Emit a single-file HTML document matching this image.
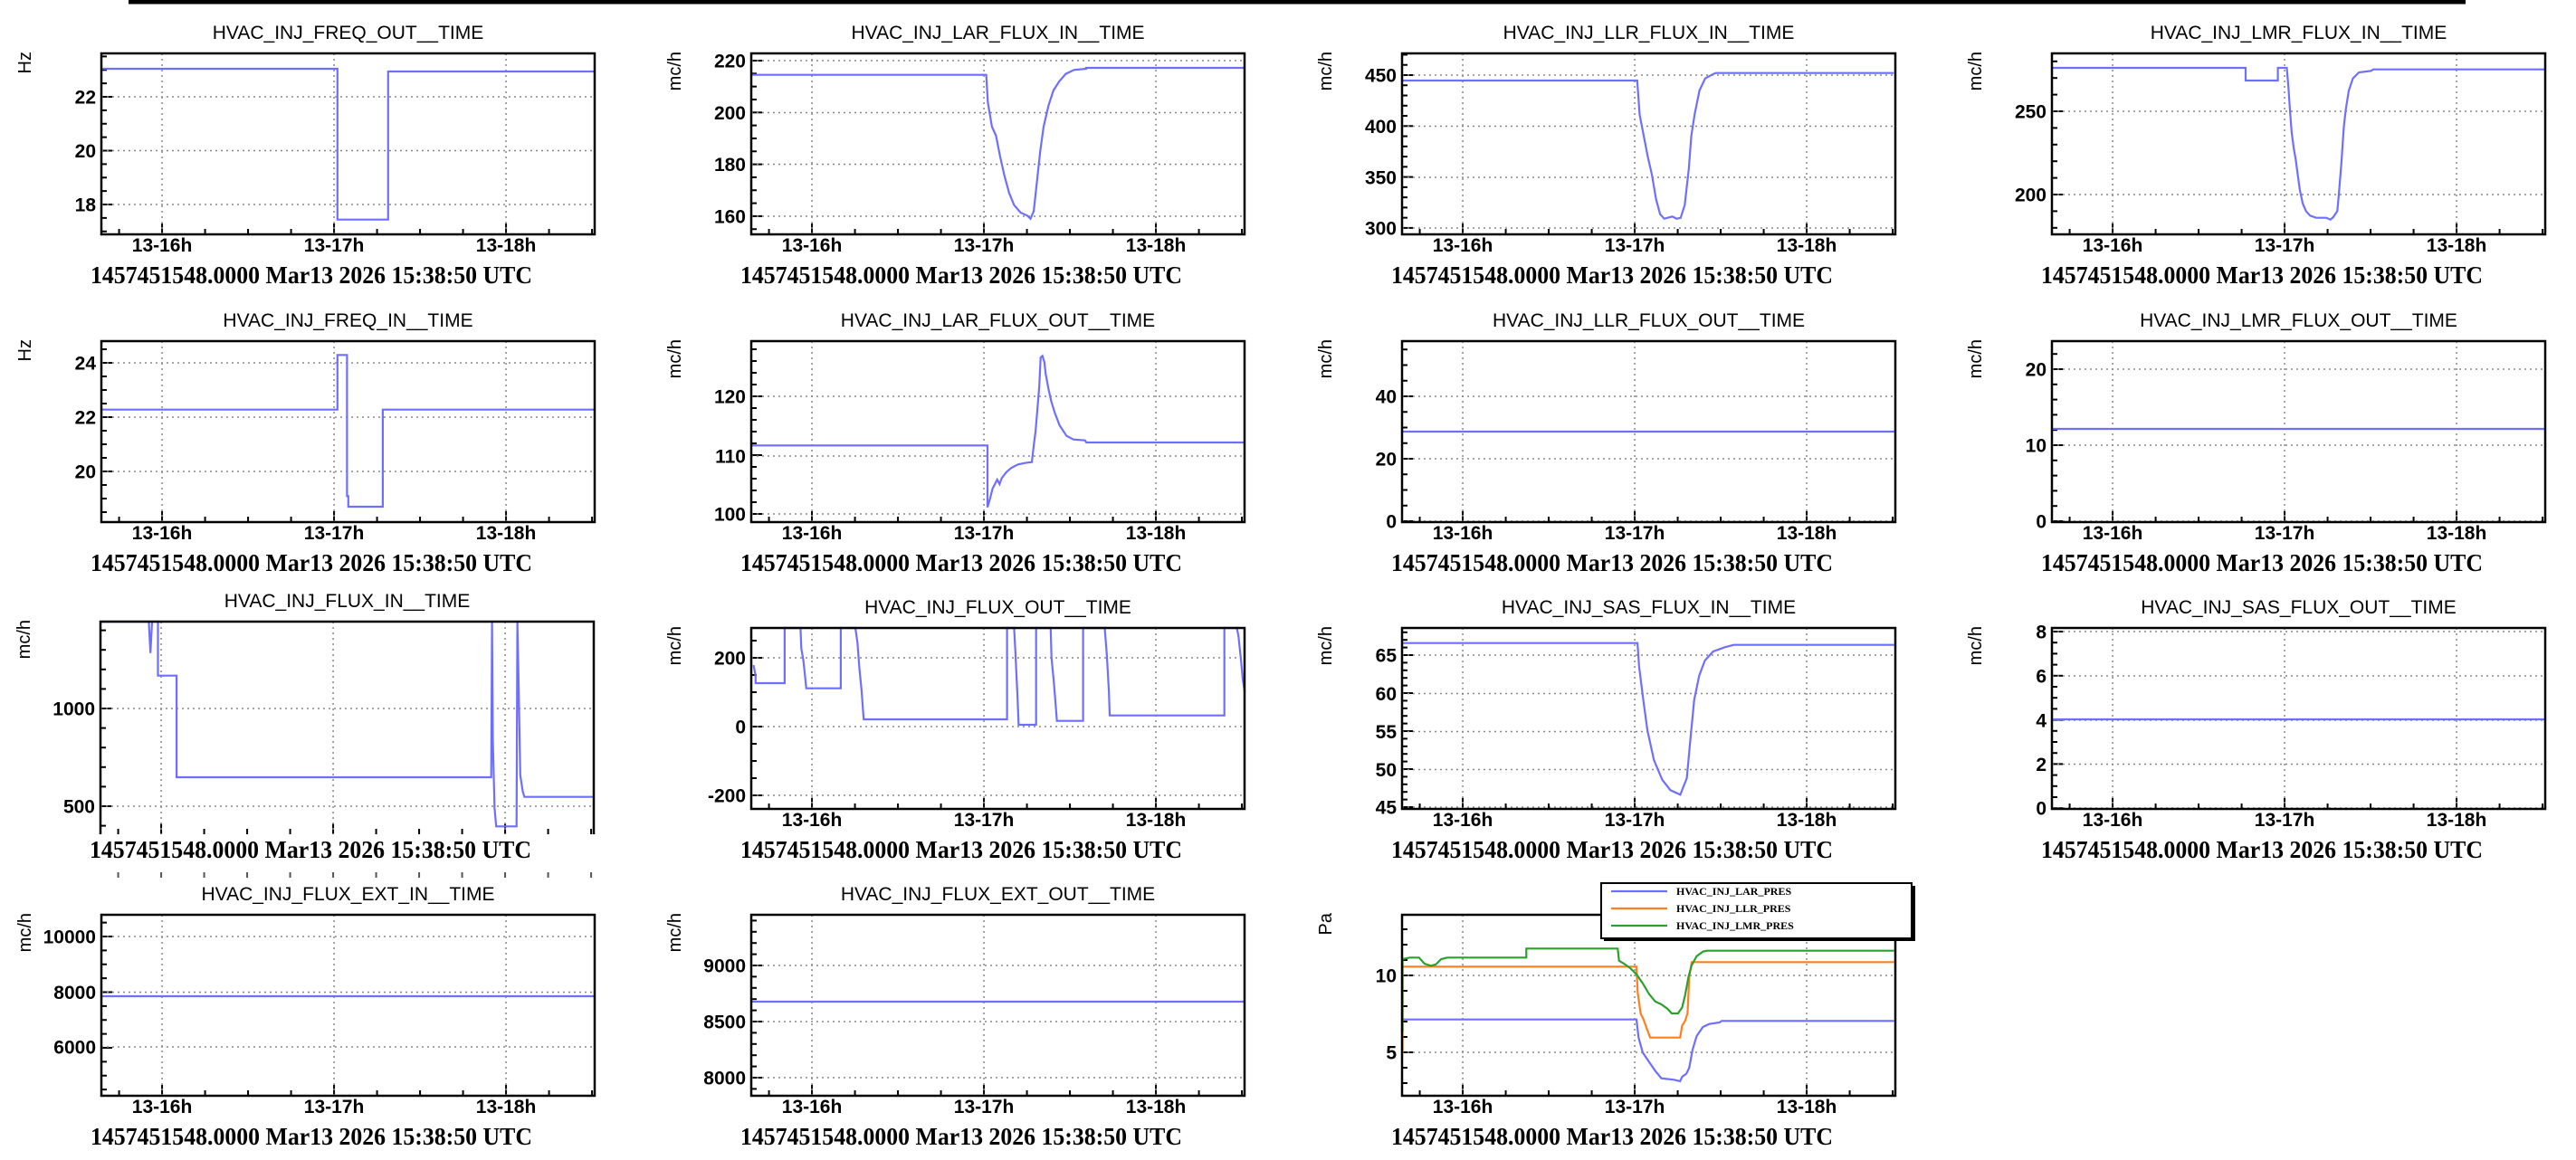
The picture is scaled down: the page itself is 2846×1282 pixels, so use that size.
<!DOCTYPE html>
<html><head><meta charset="utf-8">
<style>html,body{margin:0;padding:0;background:#fff;}svg{display:block}</style>
</head><body>
<svg id="s" xmlns="http://www.w3.org/2000/svg" width="2846" height="1282" viewBox="0 0 2846 1282"></svg>
<script>
const S=document.getElementById('s');let h='';
h+='<rect x="0" y="0" width="2846" height="1282" fill="#fff"/>';
h+='<rect x="142" y="0" width="2582" height="4.5" fill="#000"/>';
const W=545,H=200,BLUE='#6f6fff';
function yt(P){ // y ticks
  let s='';const {x0,y0,bot,majors,step,sub}=P;
  const ys=majors.map(m=>m[1]);
  let first=ys[0];
  for(let k=-20;k<40;k++){const y=first+k*step/sub; if(y<y0-0.5||y>bot+0.5)continue;
    const major=(k%sub===0);
    s+=`<line x1="${x0}" y1="${y}" x2="${x0+(major?12:6)}" y2="${y}" stroke="#000" stroke-width="2"/>`;}
  majors.forEach(([lab,y])=>{ if(y<y0-1||y>bot+1)return;
    s+=`<line x1="${x0}" y1="${y}" x2="${x0+W}" y2="${y}" stroke="#888" stroke-width="1.5" stroke-dasharray="2,4"/>`;
    s+=`<text x="${x0-6}" y="${y+7.5}" text-anchor="end" font-family="Liberation Sans, sans-serif" font-weight="bold" font-size="21">${lab}</text>`;});
  return s;
}
function xt(x0,yb,top,labels){
  let s='';
  for(let q=0;q<12;q++){const t=15.75+q*0.25;const x=x0+(t-15.647)*190;if(x>x0+W+0.5)break;
    const major=Math.abs(t-Math.round(t))<1e-6;
    s+=`<line x1="${x}" y1="${yb}" x2="${x}" y2="${yb-(major?12:6)}" stroke="#000" stroke-width="2"/>`;
    if(major){ if(top!==null) s+=`<line x1="${x}" y1="${top}" x2="${x}" y2="${yb}" stroke="#888" stroke-width="1.5" stroke-dasharray="2,4"/>`;
      if(labels) s+=`<text x="${x}" y="${yb+19}" text-anchor="middle" font-family="Liberation Sans, sans-serif" font-weight="bold" font-size="21">13-${Math.round(t)}h</text>`;}}
  return s;
}
function conv(pts,bx,sx,by){return pts.map(p=>[bx+p[0]/sx,by+p[1]/3]);}
function poly(pts,col,y0,bot){return `<polyline fill="none" stroke="${col||BLUE}" stroke-width="2.2" points="${pts.map(p=>p[0].toFixed(1)+','+Math.min(bot,Math.max(y0,p[1])).toFixed(1)).join(' ')}"/>`;}
function panel(c){
  const x0=c.x0,y0=c.y0,bot=c.bot||y0+H;
  let s='';
  s+=`<text x="${x0+W/2}" y="${y0-16}" text-anchor="middle" font-family="Liberation Sans, sans-serif" font-size="21">${c.title}</text>`;
  s+=`<text transform="translate(${x0-78},${y0-2}) rotate(-90)" text-anchor="end" font-family="Liberation Sans, sans-serif" font-size="20">${c.unit}</text>`;
  s+=yt({x0,y0,bot,majors:c.majors,step:c.step,sub:c.sub});
  s+=xt(x0,bot,y0,!c.special);
  (c.series||[]).forEach(se=>{s+=poly(se.pts,se.col,y0,bot);});
  if(c.special){
    s+=`<path d="M${x0},${bot} L${x0},${y0} L${x0+W},${y0} L${x0+W},${bot}" fill="none" stroke="#000" stroke-width="2.5"/>`;
    s+=`<text x="${x0-12}" y="${bot+26}" textLength="488" lengthAdjust="spacingAndGlyphs" font-family="Liberation Serif, serif" font-weight="bold" font-size="27">1457451548.0000 Mar13 2026 15:38:50 UTC</text>`;
    for(let q=0;q<12;q++){const t=15.75+q*0.25;const x=x0+(t-15.647)*190;if(x>x0+W)break;
      s+=`<line x1="${x}" y1="970" x2="${x}" y2="964" stroke="#555" stroke-width="2"/>`;}
  } else {
    s+=`<rect x="${x0}" y="${y0}" width="${W}" height="${bot-y0}" fill="none" stroke="#000" stroke-width="2.5"/>`;
    s+=`<text x="${x0-12}" y="${bot+54}" textLength="488" lengthAdjust="spacingAndGlyphs" font-family="Liberation Serif, serif" font-weight="bold" font-size="27">1457451548.0000 Mar13 2026 15:38:50 UTC</text>`;
  }
  return s;
}
const C=[112,830,1549,2267],R=[59,377,694,1011];
const P=[];
P.push({x0:C[0],y0:R[0],title:'HVAC_INJ_FREQ_OUT__TIME',unit:'Hz',majors:[[22,107],[20,166.5],[18,226]],step:59.5,sub:4,
 series:[{pts:conv([[245,228],[812,228],[812,728],[934,728],[934,237],[1432,237]],0,2.178,0)}]});
P.push({x0:C[1],y0:R[0],title:'HVAC_INJ_LAR_FLUX_IN__TIME',unit:'mc/h',majors:[[220,67],[200,124.5],[180,181.5],[160,239]],step:57.3,sub:4,
 series:[{pts:conv([[122,248],[408,248],[410,340],[415,420],[420,450],[425,520],[430,580],[436,640],[442,680],[450,705],[458,715],[462,725],[466,700],[470,600],[474,500],[478,420],[484,350],[490,300],[497,270],[505,245],[515,232],[530,228],[530,225],[722,225]],720,1.104,0)}]});
P.push({x0:C[2],y0:R[0],title:'HVAC_INJ_LLR_FLUX_IN__TIME',unit:'mc/h',majors:[[450,83],[400,139.5],[350,196],[300,252]],step:56.3,sub:5,
 series:[{pts:conv([[915,267],[1202,267],[1205,380],[1210,450],[1215,520],[1220,580],[1225,660],[1230,710],[1235,725],[1245,718],[1250,725],[1255,722],[1260,680],[1265,560],[1268,450],[1272,380],[1278,300],[1285,260],[1295,245],[1298,242],[1515,242]],720,1.104,0)}]});
P.push({x0:C[3],y0:R[0],title:'HVAC_INJ_LMR_FLUX_IN__TIME',unit:'mc/h',majors:[[250,123],[200,215]],step:92,sub:5,
 series:[{pts:conv([[282,225],[757,225],[757,267],[836,267],[836,225],[858,225],[862,290],[866,370],[870,440],[875,490],[880,530],[885,580],[890,630],[897,675],[905,700],[915,715],[930,722],[955,722],[965,728],[972,720],[982,700],[986,640],[992,540],[998,420],[1003,360],[1010,300],[1020,260],[1035,240],[1065,235],[1070,230],[1490,230]],2140,2.22,0)}]});
P.push({x0:C[0],y0:R[1],title:'HVAC_INJ_FREQ_IN__TIME',unit:'Hz',majors:[[24,401],[22,461],[20,521]],step:60,sub:4,
 series:[{pts:conv([[245,398],[812,398],[812,217],[835,217],[835,685],[838,685],[838,720],[921,720],[921,398],[1432,398]],0,2.178,320)}]});
P.push({x0:C[1],y0:R[1],title:'HVAC_INJ_LAR_FLUX_OUT__TIME',unit:'mc/h',majors:[[120,438],[110,504],[100,568]],step:65,sub:5,
 series:[{pts:conv([[373,517],[884,517],[884,722],[890,690],[895,660],[900,645],[905,630],[910,645],[915,625],[925,605],[935,592],[950,580],[965,575],[980,572],[984,520],[988,470],[993,380],[996,320],[999,225],[1003,220],[1007,240],[1010,280],[1016,330],[1022,370],[1030,410],[1040,450],[1055,485],[1070,497],[1095,500],[1098,507],[1441,507]],640,1.96,320)}]});
P.push({x0:C[2],y0:R[1],title:'HVAC_INJ_LLR_FLUX_OUT__TIME',unit:'mc/h',majors:[[40,438],[20,507],[0,576]],step:69,sub:4,
 series:[{pts:[[C[2],477],[C[2]+W,477]]}]});
P.push({x0:C[3],y0:R[1],title:'HVAC_INJ_LMR_FLUX_OUT__TIME',unit:'mc/h',majors:[[20,408],[10,492],[0,576]],step:84,sub:5,
 series:[{pts:[[C[3],474],[C[3]+W,474]]}]});
P.push({x0:C[0]-1,y0:687,bot:922,special:true,title:'HVAC_INJ_FLUX_IN__TIME',unit:'mc/h',majors:[[1000,783],[500,891]],step:108,sub:5,
 series:[{pts:conv([[242,140],[358,140],[362,245],[366,140],[380,140],[380,320],[425,320],[425,657],[1182,657],[1184,140],[1186,535],[1190,760],[1194,820],[1243,820],[1245,140],[1248,350],[1252,650],[1258,705],[1262,722],[1427,722]],0,2.178,640)}]});
P.push({x0:C[1],y0:R[2],title:'HVAC_INJ_FLUX_OUT__TIME',unit:'mc/h',majors:[[200,727],[0,803],[-200,879]],step:76,sub:4,
 series:[{pts:conv([[245,285],[250,320],[250,345],[320,345],[320,162],[358,162],[360,230],[365,270],[368,310],[372,362],[455,362],[455,162],[490,162],[495,210],[500,300],[505,370],[510,465],[855,465],[855,162],[872,162],[875,235],[880,380],[883,483],[925,483],[925,162],[960,162],[962,260],[968,345],[975,470],[1038,470],[1038,162],[1090,162],[1095,250],[1100,370],[1102,452],[1378,452],[1378,162],[1408,162],[1412,190],[1418,270],[1422,330],[1427,375]],720,2.178,640)}]});
P.push({x0:C[2],y0:R[2],title:'HVAC_INJ_SAS_FLUX_IN__TIME',unit:'mc/h',majors:[[65,724],[60,766.5],[55,808.5],[50,850.5],[45,892]],step:42,sub:5,
 series:[{pts:conv([[143,212],[428,212],[430,290],[435,400],[440,500],[448,600],[458,665],[468,700],[480,715],[488,660],[492,540],[497,400],[503,320],[510,270],[520,240],[535,225],[545,218],[740,218]],1420,1.1,640)}]});
P.push({x0:C[3],y0:R[2],title:'HVAC_INJ_SAS_FLUX_OUT__TIME',unit:'mc/h',majors:[[8,698],[6,747],[4,796],[2,844.5],[0,893]],step:48.8,sub:4,
 series:[{pts:[[C[3],795],[C[3]+W,795]]}]});
P.push({x0:C[0],y0:R[3],title:'HVAC_INJ_FLUX_EXT_IN__TIME',unit:'mc/h',majors:[[10000,1035],[8000,1096.5],[6000,1157]],step:61.5,sub:4,
 series:[{pts:[[C[0],1101],[C[0]+W,1101]]}]});
P.push({x0:C[1],y0:R[3],title:'HVAC_INJ_FLUX_EXT_OUT__TIME',unit:'mc/h',majors:[[9000,1067],[8500,1129],[8000,1191]],step:62,sub:5,
 series:[{pts:[[C[1],1107],[C[1]+W,1107]]}]});
P.push({x0:C[2],y0:R[3],title:'',unit:'Pa',majors:[[10,1078],[5,1163]],step:85,sub:5,
 series:[
 {col:'#6f6fff',pts:conv([[282,500],[845,500],[850,560],[860,610],[875,640],[890,670],[905,695],[935,700],[950,705],[955,690],[965,680],[972,660],[980,600],[990,555],[1005,525],[1020,515],[1045,510],[1050,505],[1465,505]],1420,2.178,960)},
 {col:'#ff7f1e',pts:conv([[282,610],[282,325],[845,325],[848,410],[855,480],[862,500],[870,530],[878,560],[950,560],[955,520],[962,505],[968,480],[972,360],[978,310],[1465,310]],1420,2.178,960)},
 {col:'#2ca02c',pts:conv([[282,540],[282,300],[300,295],[322,295],[335,315],[350,322],[362,318],[375,300],[390,295],[580,295],[580,265],[800,265],[803,305],[815,315],[830,330],[845,350],[860,380],[875,415],[890,440],[905,450],[920,465],[930,480],[945,480],[955,460],[962,420],[970,360],[978,320],[990,290],[1005,275],[1015,272],[1465,272]],1420,2.178,960)}]});
P.forEach(c=>h+=panel(c));
// legend
h+='<rect x="1772" y="979" width="344" height="61" fill="#000"/>';
h+='<rect x="1769" y="976" width="343" height="61" fill="#fff" stroke="#000" stroke-width="2"/>';
[['#6f6fff','HVAC_INJ_LAR_PRES',985],['#ff7f1e','HVAC_INJ_LLR_PRES',1004],['#2ca02c','HVAC_INJ_LMR_PRES',1023]].forEach(([c,t,y])=>{
 h+=`<line x1="1780" y1="${y}" x2="1842" y2="${y}" stroke="${c}" stroke-width="2.2"/>`;
 h+=`<text x="1852" y="${y+4}" font-family="Liberation Serif, serif" font-weight="bold" font-size="12">${t}</text>`;});
S.innerHTML=h;
</script>
</body></html>
